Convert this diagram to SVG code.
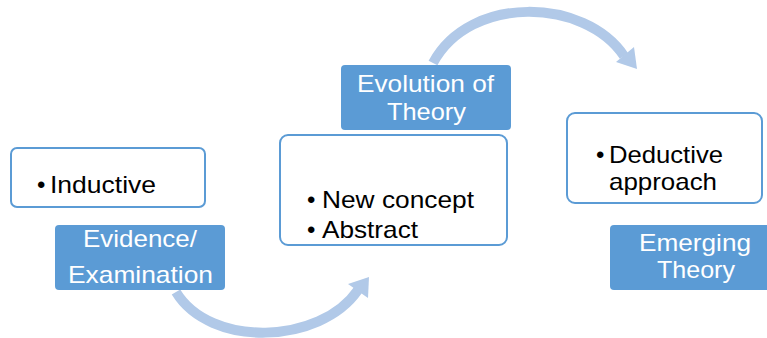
<svg xmlns="http://www.w3.org/2000/svg" width="767" height="338" viewBox="0 0 767 338">
<style>
.wbox{fill:#ffffff;stroke:#5b9bd5;stroke-width:2}
.bbox{fill:#5b9bd5;stroke:none}
.t{font-family:"Liberation Sans",Arial,sans-serif;font-size:24px;fill:#000000}
.w{font-family:"Liberation Sans",Arial,sans-serif;font-size:24px;fill:#ffffff}
.arr{fill:none;stroke:#b1c9e8;stroke-width:10}
.head{fill:#b1c9e8}
</style>
<rect width="767" height="338" fill="#ffffff"/>
<g id="connectors">
<path class="arr" d="M176,292 C 210,348 320,345 358,290"/>
<polygon class="head" points="369,277 348,284 368,298"/>
<path class="arr" d="M433,63 C 470,-6 585,-2 624,56"/>
<polygon class="head" points="637,69 616,62 634,47"/>
</g>
<g id="inductive">
<rect class="wbox" x="11" y="148" width="194" height="59" rx="6"/>
<text class="t" x="37" y="193">•</text>
<text class="t" x="50" y="193" textLength="106" lengthAdjust="spacingAndGlyphs">Inductive</text>
</g>
<g id="evidence">
<rect class="bbox" x="55" y="225" width="170" height="65" rx="4"/>
<text class="w" x="83" y="247" textLength="114" lengthAdjust="spacingAndGlyphs">Evidence/</text>
<text class="w" x="68" y="283" textLength="145" lengthAdjust="spacingAndGlyphs">Examination</text>
</g>
<g id="evolution">
<rect class="bbox" x="341" y="65" width="170" height="65" rx="4"/>
<text class="w" x="357" y="92" textLength="137" lengthAdjust="spacingAndGlyphs">Evolution of</text>
<text class="w" x="387" y="120" textLength="79" lengthAdjust="spacingAndGlyphs">Theory</text>
</g>
<g id="concept">
<rect class="wbox" x="280" y="135" width="227" height="110" rx="8"/>
<text class="t" x="307" y="208">•</text>
<text class="t" x="322" y="208" textLength="152" lengthAdjust="spacingAndGlyphs">New concept</text>
<text class="t" x="307" y="238">•</text>
<text class="t" x="322" y="238" textLength="96" lengthAdjust="spacingAndGlyphs">Abstract</text>
</g>
<g id="deductive">
<rect class="wbox" x="567" y="113" width="195" height="90" rx="8"/>
<text class="t" x="596" y="163">•</text>
<text class="t" x="609" y="163" textLength="114" lengthAdjust="spacingAndGlyphs">Deductive</text>
<text class="t" x="609" y="190" textLength="108" lengthAdjust="spacingAndGlyphs">approach</text>
</g>
<g id="emerging">
<rect class="bbox" x="610" y="225" width="170" height="65" rx="4"/>
<text class="w" x="639" y="251" textLength="112" lengthAdjust="spacingAndGlyphs">Emerging</text>
<text class="w" x="657" y="278" textLength="78" lengthAdjust="spacingAndGlyphs">Theory</text>
</g>
</svg>
